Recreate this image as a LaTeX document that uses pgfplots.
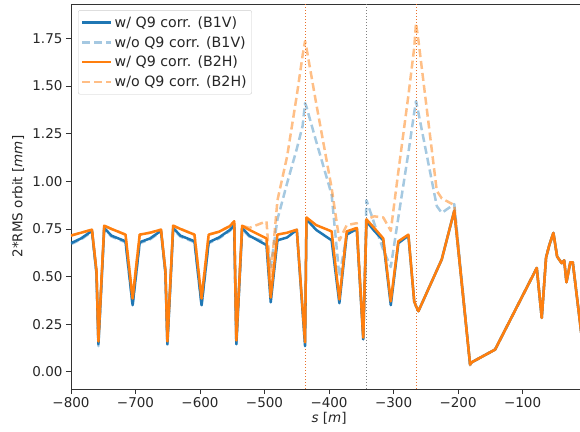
\documentclass[border=0pt]{standalone}
\usepackage{fontspec}
\setmainfont{DejaVu Sans}
\usepackage{pgfplots}
\pgfplotsset{compat=1.18}
\definecolor{cblue}{HTML}{1F77B4}
\definecolor{corange}{HTML}{FF7F0E}
\definecolor{vorange}{HTML}{E8702A}
\begin{document}
\begin{tikzpicture}
\begin{axis}[
  name=ax,
  scale only axis, width=509pt, height=385pt,
  xmin=-800, xmax=-11, ymin=-0.09, ymax=1.93,
  axis x line=box, axis y line*=left,
  xtick pos=left, ytick pos=left,
  tick align=outside, major tick length=5pt,
  tick style={black!80, line width=0.8pt},
  axis line style={black!80, line width=0.9pt},
  xtick={-800,-700,-600,-500,-400,-300,-200,-100},
  xticklabels={−800,−700,−600,−500,−400,−300,−200,−100},
  ytick={0,0.25,0.5,0.75,1,1.25,1.5,1.75},
  yticklabels={0.00,0.25,0.50,0.75,1.00,1.25,1.50,1.75},
  tick label style={font=\fontsize{13.5}{16}\selectfont, text=black!85},
  xlabel={\textit{s} [\textit{m}]},
  ylabel={2*RMS orbit [\textit{mm}]},
  label style={font=\fontsize{13.5}{16}\selectfont, text=black!85},
  xlabel style={at={(axis description cs:0.507,-0.075)}, anchor=center},
  ylabel style={at={(axis description cs:-0.104,0.5)}, anchor=center},
  legend cell align=left,
  legend style={at={(axis description cs:0.0138,0.984)}, anchor=north west,
    draw=black!20, fill=white, rounded corners=2pt,
    font=\fontsize{14.2}{16}\selectfont, text=black!85,
    inner xsep=3pt, inner ysep=4pt, row sep=3.6pt,
    /tikz/every even column/.append style={column sep=5pt}},
  legend image code/.code={\draw[#1] (0pt,0pt) -- (29pt,0pt);},
  every axis plot/.append style={line join=round},
]
% vertical markers
\addplot[vorange, line width=1pt, dotted, forget plot] coordinates {(-437.2,-0.09) (-437.2,1.93)};
\addplot[gray, line width=1pt, dotted, forget plot] coordinates {(-342.5,-0.09) (-342.5,1.93)};
\addplot[vorange, line width=1pt, dotted, forget plot] coordinates {(-265.2,-0.09) (-265.2,1.93)};

% w/ Q9 corr. (B1V)
\addplot[cblue, line width=2.5pt] coordinates {
(-800,0.675) (-784.4,0.700) (-767.5,0.740) (-760.5,0.520) (-757.5,0.145)
(-748.5,0.755) (-737.5,0.715) (-715.5,0.685) (-704.5,0.350) (-693.5,0.680) (-677.5,0.700) (-660.5,0.740) (-653.6,0.520) (-650.6,0.145)
(-641.6,0.755) (-630.6,0.715) (-608.6,0.685) (-597.6,0.350) (-586.6,0.680) (-570.6,0.705) (-553.6,0.745) (-547.0,0.770) (-543.7,0.145)
(-534.7,0.755) (-523.7,0.715) (-497.0,0.665) (-490.4,0.365) (-480.0,0.690) (-465.0,0.705) (-450.0,0.745) (-437.2,0.135)
(-435.0,0.800) (-420.0,0.745) (-396.0,0.690) (-384.0,0.360) (-372.6,0.720) (-357.0,0.750) (-347.0,0.170) (-342.0,0.790)
(-330.0,0.740) (-316.0,0.690) (-304.3,0.350) (-292.6,0.675) (-277.0,0.715) (-268.0,0.370) (-265.2,0.345) (-261.5,0.318)
(-225.3,0.590) (-205.9,0.845) (-181.4,0.040) (-178.9,0.050) (-142.6,0.117) (-78.0,0.545) (-70.3,0.283) (-63.6,0.600)
(-58.4,0.667) (-52.2,0.729) (-46.5,0.605) (-39.3,0.570) (-35.5,0.585) (-32.0,0.470) (-26.0,0.575) (-22.2,0.575) (-5.0,0.090)
};
\addlegendentry{w/ Q9 corr. (B1V)}

% w/o Q9 corr. (B1V)
\addplot[cblue, line width=2.5pt, opacity=0.4, dash pattern=on 8pt off 4pt] coordinates {
(-800,0.670) (-784.4,0.695) (-767.5,0.735) (-760.5,0.515) (-757.5,0.135)
(-748.5,0.750) (-737.5,0.710) (-715.5,0.680) (-704.5,0.345) (-693.5,0.675) (-677.5,0.695) (-660.5,0.735) (-653.6,0.515) (-650.6,0.135)
(-641.6,0.750) (-630.6,0.710) (-608.6,0.680) (-597.6,0.345) (-586.6,0.675) (-570.6,0.700) (-553.6,0.740) (-547.0,0.765) (-543.7,0.135)
(-534.7,0.750) (-523.7,0.710) (-497.0,0.680) (-490.4,0.550) (-480.0,0.800) (-465.0,0.990) (-450.0,1.170) (-441.0,1.290) (-437.2,1.410)
(-435.0,1.390) (-420.0,1.210) (-396.0,0.930) (-384.0,0.500) (-372.6,0.720) (-357.0,0.750) (-347.0,0.200) (-342.0,0.900)
(-330.0,0.780) (-316.0,0.640) (-304.3,0.550) (-292.6,0.810) (-277.0,1.150) (-268.0,1.360) (-265.2,1.420) (-261.5,1.360)
(-233.0,0.870) (-225.3,0.834) (-205.9,0.880) (-181.4,0.035) (-178.9,0.050) (-142.6,0.117) (-78.0,0.545) (-70.3,0.283) (-63.6,0.600)
(-58.4,0.667) (-52.2,0.729) (-46.5,0.605) (-39.3,0.570) (-35.5,0.585) (-32.0,0.470) (-26.0,0.575) (-22.2,0.575) (-5.0,0.090)
};
\addlegendentry{w/o Q9 corr. (B1V)}

% w/ Q9 corr. (B2H)
\addplot[corange, line width=2.5pt] coordinates {
(-800,0.715) (-784.4,0.730) (-767.5,0.746) (-760.5,0.530) (-757.5,0.160)
(-748.5,0.767) (-737.5,0.750) (-715.5,0.720) (-704.5,0.385) (-693.5,0.720) (-677.5,0.730) (-660.5,0.746) (-653.6,0.530) (-650.6,0.160)
(-641.6,0.767) (-630.6,0.750) (-608.6,0.720) (-597.6,0.385) (-586.6,0.720) (-570.6,0.735) (-553.6,0.765) (-547.0,0.790) (-543.7,0.165)
(-534.7,0.767) (-523.7,0.745) (-497.0,0.700) (-490.4,0.390) (-480.0,0.720) (-465.0,0.730) (-450.0,0.746) (-437.2,0.155)
(-435.0,0.810) (-420.0,0.770) (-396.0,0.737) (-384.0,0.380) (-372.6,0.737) (-357.0,0.755) (-347.0,0.180) (-342.0,0.800)
(-330.0,0.755) (-316.0,0.700) (-304.3,0.370) (-292.6,0.685) (-277.0,0.720) (-268.0,0.370) (-265.2,0.345) (-261.5,0.318)
(-225.3,0.590) (-205.9,0.845) (-181.4,0.040) (-178.9,0.050) (-142.6,0.117) (-78.0,0.545) (-70.3,0.283) (-63.6,0.600)
(-58.4,0.667) (-52.2,0.729) (-46.5,0.605) (-39.3,0.570) (-35.5,0.585) (-32.0,0.470) (-26.0,0.575) (-22.2,0.575) (-5.0,0.090)
};
\addlegendentry{w/ Q9 corr. (B2H)}

% w/o Q9 corr. (B2H)
\addplot[corange, line width=2.5pt, opacity=0.5, dash pattern=on 8pt off 4pt] coordinates {
(-800,0.715) (-784.4,0.730) (-767.5,0.746) (-760.5,0.530) (-757.5,0.160)
(-748.5,0.767) (-737.5,0.750) (-715.5,0.720) (-704.5,0.385) (-693.5,0.720) (-677.5,0.730) (-660.5,0.746) (-653.6,0.530) (-650.6,0.160)
(-641.6,0.767) (-630.6,0.750) (-608.6,0.720) (-597.6,0.385) (-586.6,0.720) (-570.6,0.735) (-553.6,0.765) (-547.0,0.790) (-543.7,0.165)
(-534.7,0.767) (-523.7,0.755) (-497.0,0.790) (-490.4,0.500) (-480.0,0.900) (-465.0,1.130) (-450.0,1.450) (-441.0,1.660) (-437.2,1.735)
(-435.0,1.700) (-420.0,1.410) (-396.0,0.965) (-384.0,0.690) (-372.6,0.770) (-357.0,0.780) (-347.0,0.190) (-342.0,0.800)
(-330.0,0.816) (-316.0,0.810) (-304.3,0.740) (-292.6,1.050) (-277.0,1.450) (-268.0,1.700) (-265.2,1.830) (-261.5,1.740)
(-233.0,0.950) (-225.3,0.910) (-205.9,0.875) (-181.4,0.035) (-178.9,0.050) (-142.6,0.117) (-78.0,0.545) (-70.3,0.283) (-63.6,0.600)
(-58.4,0.667) (-52.2,0.729) (-46.5,0.605) (-39.3,0.570) (-35.5,0.585) (-32.0,0.470) (-26.0,0.575) (-22.2,0.575) (-5.0,0.090)
};
\addlegendentry{w/o Q9 corr. (B2H)}
\end{axis}
\pgfresetboundingbox
\useasboundingbox ([xshift=-71pt,yshift=-43pt]ax.south west) rectangle ([yshift=4pt]ax.north east);
\end{tikzpicture}
\end{document}
